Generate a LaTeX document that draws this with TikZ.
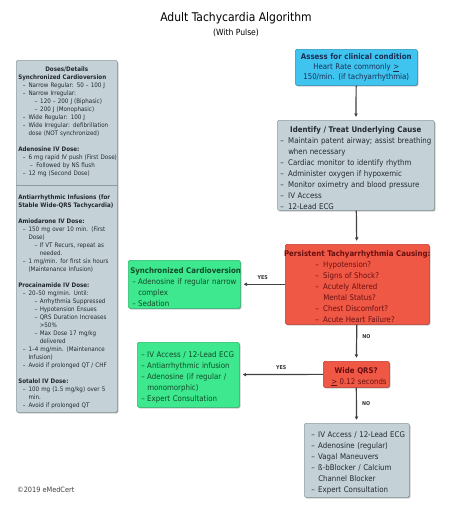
\documentclass[tikz,border=0pt]{standalone}
\usepackage{fontspec}
\setmainfont{DejaVu Sans Condensed}
\usetikzlibrary{arrows.meta,shadows}

\definecolor{assessblue}{RGB}{62,196,238}
\definecolor{assessedge}{RGB}{40,150,190}
\definecolor{assesstext}{RGB}{25,45,85}
\definecolor{infogrey}{RGB}{196,210,215}
\definecolor{infoedge}{RGB}{140,155,160}
\definecolor{infotext}{RGB}{35,40,45}
\definecolor{alertred}{RGB}{240,88,70}
\definecolor{alertedge}{RGB}{195,55,45}
\definecolor{alerttext}{RGB}{105,15,15}
\definecolor{actiongreen}{RGB}{62,232,142}
\definecolor{actionedge}{RGB}{40,185,110}
\definecolor{actiontext}{RGB}{15,75,40}
\definecolor{flowline}{RGB}{65,65,65}

\newcommand{\dashline}[3]{\par\noindent\hspace*{#1}\makebox[\dimexpr#2-#1\relax][l]{–}\mbox{#3}}
\newcommand{\moreline}[2]{\par\noindent\hspace*{#1}\mbox{#2}}
\newcommand{\headline}[1]{\par\noindent\mbox{\bfseries #1}}
\newcommand{\headcentre}[1]{\par\noindent\makebox[\linewidth]{\bfseries #1}}
\newcommand{\gapline}{\par\noindent\mbox{}}

\tikzset{
	flowbox/.style={draw, rounded corners=1.5pt, line width=0.5pt, inner xsep=2pt, inner ysep=1pt,
		anchor=north west, align=left,
		drop shadow={shadow xshift=1.1pt, shadow yshift=-1.1pt, opacity=0.5, fill=black!70}},
	assessbox/.style={flowbox, fill=assessblue, draw=assessedge, text=assesstext, align=center,
		font=\fontsize{7.8}{10}\selectfont},
	infobox/.style={flowbox, fill=infogrey, draw=infoedge, text=infotext,
		font=\fontsize{7.8}{11}\selectfont},
	alertbox/.style={flowbox, fill=alertred, draw=alertedge, text=alerttext,
		font=\fontsize{7.8}{11}\selectfont},
	actionbox/.style={flowbox, fill=actiongreen, draw=actionedge, text=actiontext,
		font=\fontsize{7.8}{11}\selectfont},
	flowarrow/.style={draw=flowline, line width=1.2pt, -{Latex[length=3.5pt,width=3.8pt]}, shorten >=3pt},
	answer/.style={font=\fontsize{5.3}{6}\selectfont\bfseries, text=black!80, inner sep=1pt}
}

\begin{document}
\begin{tikzpicture}[x=1pt, y=-1pt]
	%%%%% START %%%%%
	
	\useasboundingbox[fill=white] (0, 0) rectangle (473, 507);
	
	\node[font=\fontsize{12}{14}\selectfont] (title) at (236, 18) {Adult Tachycardia Algorithm};
	\node[font=\fontsize{8.5}{10}\selectfont] (subtitle) at (236, 33) {(With Pulse)};
	
	% left column
	\node[infobox, text width=97pt, minimum height=352pt, font=\fontsize{6.2}{8}\selectfont] (doses) at (16, 60) {%
		\headcentre{Doses/Details}
		\headline{Synchronized Cardioversion}
		\dashline{4.7pt}{10.3pt}{Narrow Regular: 50 – 100 J}
		\dashline{4.7pt}{10.3pt}{Narrow Irregular:}
		\dashline{16.3pt}{22pt}{120 – 200 J (Biphasic)}
		\dashline{16.3pt}{22pt}{200 J (Monophasic)}
		\dashline{4.7pt}{10.3pt}{Wide Regular: 100 J}
		\dashline{4.7pt}{10.3pt}{Wide Irregular: defibrillation}
		\moreline{10.3pt}{dose (NOT synchronized)}
		\gapline
		\headline{Adenosine IV Dose:}
		\dashline{4.7pt}{10.3pt}{6 mg rapid IV push (First Dose)}
		\dashline{12pt}{18pt}{Followed by NS flush}
		\dashline{4.7pt}{10.3pt}{12 mg (Second Dose)}
		\gapline
		\gapline
		\headline{Antiarrhythmic Infusions (for}
		\headline{Stable Wide-QRS Tachycardia)}
		\gapline
		\headline{Amiodarone IV Dose:}
		\dashline{4.7pt}{10.3pt}{150 mg over 10 min. (First}
		\moreline{10.3pt}{Dose)}
		\dashline{16.3pt}{21.5pt}{If VT Recurs, repeat as}
		\moreline{21.5pt}{needed.}
		\dashline{4.7pt}{10.3pt}{1 mg/min. for first six hours}
		\moreline{10.3pt}{(Maintenance Infusion)}
		\gapline
		\headline{Procainamide IV Dose:}
		\dashline{4.7pt}{10.3pt}{20–50 mg/min. Until:}
		\dashline{16.3pt}{21.5pt}{Arrhythmia Suppressed}
		\dashline{16.3pt}{21.5pt}{Hypotension Ensues}
		\dashline{16.3pt}{21.5pt}{QRS Duration Increases}
		\moreline{21.5pt}{>50\%}
		\dashline{16.3pt}{21.5pt}{Max Dose 17 mg/kg}
		\moreline{21.5pt}{delivered}
		\dashline{4.7pt}{10.3pt}{1–4 mg/min. (Maintenance}
		\moreline{10.3pt}{Infusion)}
		\dashline{4.7pt}{10.3pt}{Avoid if prolonged QT / CHF}
		\gapline
		\headline{Sotalol IV Dose:}
		\dashline{4.7pt}{10.3pt}{100 mg (1.5 mg/kg) over 5}
		\moreline{10.3pt}{min.}
		\dashline{4.7pt}{10.3pt}{Avoid if prolonged QT}};
	\coordinate (doseSplit) at (0, 185);
	\draw[draw=infoedge, line width=0.6pt] (doses.west |- doseSplit) -- (doses.east |- doseSplit);
	
	% main column
	\node[assessbox, text width=118pt, minimum height=36pt] (assess) at (295, 49) {%
		\textbf{Assess for clinical condition}\\Heart Rate commonly \underline{>}\\150/min. (if tachyarrhythmia)};
	
	\node[infobox, text width=153pt, minimum height=88pt] (identify) at (277, 120) {%
		\headcentre{Identify / Treat Underlying Cause}
		\dashline{1pt}{9pt}{Maintain patent airway; assist breathing}
		\moreline{9pt}{when necessary}
		\dashline{1pt}{9pt}{Cardiac monitor to identify rhythm}
		\dashline{1pt}{9pt}{Administer oxygen if hypoxemic}
		\dashline{1pt}{9pt}{Monitor oximetry and blood pressure}
		\dashline{1pt}{9pt}{IV Access}
		\dashline{1pt}{9pt}{12-Lead ECG}};
	
	\node[alertbox, text width=140pt, minimum height=80pt] (persistent) at (285, 244) {%
		\headcentre{Persistent Tachyarrhythmia Causing:}
		\dashline{28pt}{36pt}{Hypotension?}
		\dashline{28pt}{36pt}{Signs of Shock?}
		\dashline{28pt}{36pt}{Acutely Altered}
		\moreline{36pt}{Mental Status?}
		\dashline{28pt}{36pt}{Chest Discomfort?}
		\dashline{28pt}{36pt}{Acute Heart Failure?}};
	
	\node[actionbox, text width=108pt, minimum height=48pt] (sync) at (128, 260) {%
		\headline{Synchronized Cardioversion}
		\dashline{2pt}{8pt}{Adenosine if regular narrow}
		\moreline{8pt}{complex}
		\dashline{2pt}{8pt}{Sedation}};
	
	\node[alertbox, text width=62pt, minimum height=26pt] (wideqrs) at (323, 361) {%
		\headcentre{Wide QRS?}
		\moreline{6pt}{\underline{>} 0.12 seconds}};
	
	\node[actionbox, text width=98pt, minimum height=65pt] (treatwide) at (137, 342) {%
		\dashline{2pt}{8pt}{IV Access / 12-Lead ECG}
		\dashline{2pt}{8pt}{Antiarrhythmic infusion}
		\dashline{2pt}{8pt}{Adenosine (if regular /}
		\moreline{8pt}{monomorphic)}
		\dashline{2pt}{8pt}{Expert Consultation}};
	
	\node[infobox, text width=101pt, minimum height=74pt] (narrow) at (304, 423) {%
		\dashline{5pt}{12pt}{IV Access / 12-Lead ECG}
		\dashline{5pt}{12pt}{Adenosine (regular)}
		\dashline{5pt}{12pt}{Vagal Maneuvers}
		\dashline{5pt}{12pt}{ß-bBlocker / Calcium}
		\moreline{12pt}{Channel Blocker}
		\dashline{5pt}{12pt}{Expert Consultation}};
	
	\node[anchor=west, font=\fontsize{7.3}{9}\selectfont, text=black!75, inner sep=0pt] (credit) at (17, 490) {©2019 eMedCert};
	
	% connectors
	\draw[flowarrow] (assess) -- (identify);
	\draw[flowarrow] (identify) -- (persistent);
	\draw[flowarrow] (persistent) -- node[answer, above=3pt] {YES} (sync);
	\draw[flowarrow] (persistent) -- node[answer, pos=0.32, right=4pt] {NO} (wideqrs);
	\draw[flowarrow] (wideqrs) -- node[answer, above=3pt] {YES} (treatwide);
	\draw[flowarrow] (wideqrs) -- node[answer, pos=0.45, right=4pt] {NO} (narrow);
	
	%%%%% END %%%%%
\end{tikzpicture}
\end{document}
